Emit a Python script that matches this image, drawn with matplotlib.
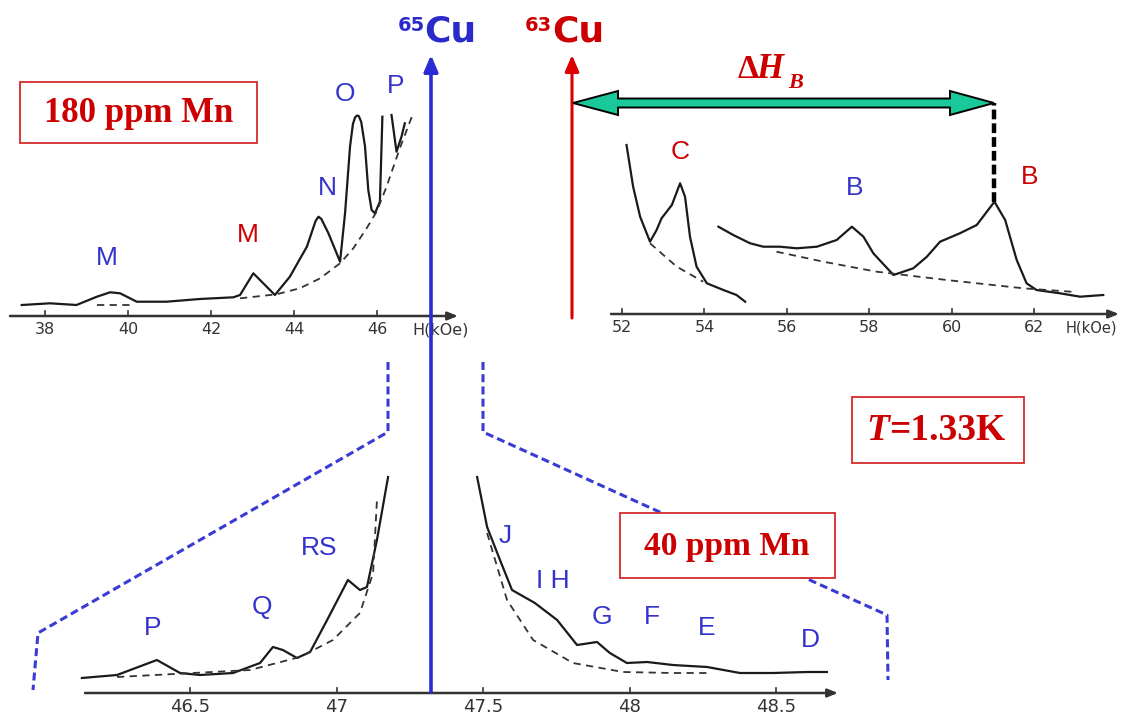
import matplotlib
matplotlib.use("Agg")
import matplotlib.pyplot as plt
from matplotlib.patches import Polygon, Rectangle

# ---- spectra (field in kOe, signal in arbitrary units) ----
# 180 ppm Mn, 65Cu side
h_180_65 = [37.44, 38.12, 38.76, 39.25, 39.57, 39.81, 40.21, 40.93, 41.73, 42.54,
            42.70, 43.02, 43.26, 43.54, 43.90, 44.31, 44.52, 44.59, 44.66, 44.83,
            45.11, 45.23, 45.35, 45.42, 45.47, 45.52, 45.56, 45.62, 45.71, 45.79,
            45.87, 45.95, 46.07, 46.13]
s_180_65 = [11, 12.7, 11, 19.3, 23.7, 22.7, 14.3, 14.3, 17, 18.7,
            21, 42.7, 32.7, 21, 39.3, 69.3, 95, 99.3, 97, 82.7,
            54.3, 102.7, 169.3, 192, 198.5, 200.5, 200, 194, 170, 126,
            106, 102.7, 114.3, 199.3]
h_180_65_p = [46.35, 46.41, 46.47, 46.59, 46.67]
s_180_65_p = [201, 182.7, 164.3, 179.3, 192.7]
h_180_65_bg = [42.70, 43.58, 44.14, 44.63, 45.11, 45.43, 45.75, 45.99, 46.23, 46.55, 46.87]
s_180_65_bg = [17.7, 21.7, 27.7, 37.7, 52.7, 67.7, 87.7, 104.3, 129.3, 167.7, 202.7]
h_180_m_bg = [39.25, 40.05]
s_180_m_bg = [11, 11]

# 180 ppm Mn, 63Cu side
h_c = [52.11, 52.27, 52.44, 52.68, 52.84, 52.96, 53.21, 53.41, 53.53, 53.65,
       53.81, 54.06, 54.46, 54.78, 54.99]
s_c = [169, 127.3, 97.3, 72.3, 84, 95.7, 109, 130.7, 117.3, 77.3,
       47.3, 30.7, 24, 19, 12.3]
h_c_bg = [52.68, 53.33, 53.97]
s_c_bg = [70.7, 47.3, 32.3]
h_b = [54.34, 54.70, 55.11, 55.43, 55.83, 56.24, 56.73, 57.21, 57.58, 57.86,
       58.10, 58.25, 58.59, 59.07, 59.40, 59.72, 60.20, 60.61, 61.04, 61.30,
       61.58, 61.82, 62.06, 62.63, 63.12, 63.68]
s_b = [87.3, 79, 70.7, 67.3, 67.3, 65.7, 67.3, 74, 87.3, 77.3,
       60.7, 54, 39, 45.7, 57.3, 72.3, 80.7, 89, 112.3, 94,
       54, 30.7, 24, 20.7, 17.3, 19]
h_b_bg = [55.75, 56.89, 58.18, 59.88, 61.74, 63.0]
s_b_bg = [62.3, 52.3, 42.3, 34, 25.7, 22]
h_b_peak = 61.04
s_b_peak = 112.3
s_arrow = 210.7

# 40 ppm Mn, both sides of the 65Cu line
h_40_left = [46.131, 46.251, 46.387, 46.466, 46.534, 46.647, 46.739, 46.783, 46.817,
             46.865, 46.910, 46.968, 47.039, 47.080, 47.104, 47.138, 47.176]
s_40_left = [15, 18, 33, 20, 18, 20, 30, 46, 43, 35, 41, 73, 113, 103, 106, 153, 216]
h_40_left_bg = [46.251, 46.705, 46.875, 46.988, 47.080, 47.125, 47.138]
s_40_left_bg = [16, 23, 36, 53, 80, 120, 193]
h_40_right = [47.48, 47.514, 47.558, 47.599, 47.677, 47.753, 47.821, 47.889, 47.933,
              47.991, 48.060, 48.148, 48.265, 48.377, 48.490, 48.606, 48.674]
s_40_right = [216, 166, 133, 103, 90, 73, 48, 51, 40, 30, 31, 28, 26, 20, 20, 21, 21]
h_40_right_bg = [47.514, 47.582, 47.671, 47.807, 47.978, 48.148, 48.265]
s_40_right_bg = [160, 93, 53, 30, 21, 20, 20]

ticks_tl = [38, 40, 42, 44, 46]
ticks_tr = [52, 54, 56, 58, 60, 62]
ticks_bt = [46.5, 47, 47.5, 48, 48.5]
ticklabels_bt = ["46.5", "47", "47.5", "48", "48.5"]

BLUE = "#3333cc"
RED = "#cc0000"
INK = "#1a1a1a"

W, HT = 1121, 720
fig = plt.figure(figsize=(W / 100, HT / 100), dpi=100)


def make_panel(x0, x1, y_top, y_axis, h_ref, px_ref, px_per_koe):
    ax = fig.add_axes([x0 / W, 1 - y_axis / HT, (x1 - x0) / W, (y_axis - y_top) / HT])
    ax.set_xlim(h_ref + (x0 - px_ref) / px_per_koe, h_ref + (x1 - px_ref) / px_per_koe)
    ax.set_ylim(0, y_axis - y_top)
    ax.axis("off")
    return ax


def field_axis(ax, ticks, labels, fs):
    x0, x1 = ax.get_xlim()
    ax.annotate("", xy=(x1, 0), xytext=(x0, 0),
                arrowprops=dict(arrowstyle="-|>,head_length=0.5,head_width=0.2",
                                color="#333333", lw=1.8, mutation_scale=12,
                                shrinkA=0, shrinkB=0),
                annotation_clip=False)
    for t, lab in zip(ticks, labels):
        ax.plot([t, t], [0, 5], color="#333333", lw=1.2, clip_on=False)
        ax.text(t, -14, lab, ha="center", va="center", fontsize=fs, color="#333333")


def trace(ax, h, s, dashed=False):
    if dashed:
        ax.plot(h, s, color="#333333", lw=1.3, ls=(0, (4, 3)), clip_on=False)
    else:
        ax.plot(h, s, color=INK, lw=1.6, clip_on=False, solid_joinstyle="round")


# top left: 180 ppm Mn, 65Cu satellites
ax_tl = make_panel(10, 458, 40, 316, 38, 45, 41.5)
field_axis(ax_tl, ticks_tl, [str(t) for t in ticks_tl], 11.5)
ax_tl.text(38 + (441 - 45) / 41.5, -14, "H(kOe)", ha="center", va="center",
           fontsize=11.5, color="#333333")
trace(ax_tl, h_180_65, s_180_65)
trace(ax_tl, h_180_65_p, s_180_65_p)
trace(ax_tl, h_180_65_bg, s_180_65_bg, dashed=True)
trace(ax_tl, h_180_m_bg, s_180_m_bg, dashed=True)

# top right: 180 ppm Mn, 63Cu satellites
ax_tr = make_panel(611, 1119, 40, 314, 52, 622, 41.2)
field_axis(ax_tr, ticks_tr, [str(t) for t in ticks_tr], 11.5)
ax_tr.text(52 + (1066 - 622) / 41.2, -14, "H(kOe)", ha="left", va="center",
           fontsize=10.5, color="#333333")
trace(ax_tr, h_c, s_c)
trace(ax_tr, h_c_bg, s_c_bg, dashed=True)
trace(ax_tr, h_b, s_b)
trace(ax_tr, h_b_bg, s_b_bg, dashed=True)
ax_tr.plot([h_b_peak, h_b_peak], [s_b_peak, s_arrow], color="black", lw=3.2,
           ls=(0, (2.2, 0.9)), clip_on=False)

# bottom: 40 ppm Mn, expanded around the 65Cu line
ax_bt = make_panel(85, 838, 440, 693, 46.5, 190, 293)
field_axis(ax_bt, ticks_bt, ticklabels_bt, 13)
trace(ax_bt, h_40_left, s_40_left)
trace(ax_bt, h_40_left_bg, s_40_left_bg, dashed=True)
trace(ax_bt, h_40_right, s_40_right)
trace(ax_bt, h_40_right_bg, s_40_right_bg, dashed=True)

# overlay in pixel coordinates for annotations
ov = fig.add_axes([0, 0, 1, 1])
ov.set_xlim(0, W)
ov.set_ylim(HT, 0)
ov.axis("off")

# zoom guides
dash_blue = dict(color="#3a3ad4", lw=2.2, ls=(0, (2.6, 1.4)))
ov.plot([388, 388, 38, 33], [362, 432, 633, 690], **dash_blue)
ov.plot([483, 483, 887, 888], [362, 432, 615, 680], **dash_blue)

# isotope reference lines
ov.annotate("", xy=(431, 55), xytext=(431, 692),
            arrowprops=dict(arrowstyle="-|>,head_length=0.7,head_width=0.3",
                            color="#2b2bd6", lw=2.6, mutation_scale=14,
                            shrinkA=0, shrinkB=0))
ov.annotate("", xy=(572, 55), xytext=(572, 318),
            arrowprops=dict(arrowstyle="-|>,head_length=0.7,head_width=0.3",
                            color="#dd0000", lw=2.2, mutation_scale=14,
                            shrinkA=0, shrinkB=0))
ov.text(424, 42, "Cu", color="#2b2bcc", fontsize=26, fontweight="bold",
        ha="left", va="baseline")
ov.text(398, 31, "65", color="#2b2bcc", fontsize=14, fontweight="bold",
        ha="left", va="baseline")
ov.text(552, 42, "Cu", color=RED, fontsize=26, fontweight="bold",
        ha="left", va="baseline")
ov.text(525, 31, "63", color=RED, fontsize=14, fontweight="bold",
        ha="left", va="baseline")

# Delta H_B double arrow
ov.add_patch(Polygon([(573, 103), (618, 91), (618, 98.5), (950, 98.5), (950, 91),
                      (994, 103), (950, 115), (950, 107.5), (618, 107.5), (618, 115)],
                     closed=True, fc="#19c99a", ec="black", lw=1.4, zorder=4))
serif = ["Liberation Serif", "DejaVu Serif"]
ov.text(737, 78, "\u0394", color=RED, fontsize=24, fontweight="bold",
        family=serif, ha="left", va="baseline")
ov.text(756, 78, "H", color=RED, fontsize=25, fontweight="bold", fontstyle="italic",
        family=serif, ha="left", va="baseline")
ov.text(788, 88, "B", color=RED, fontsize=16, fontweight="bold", fontstyle="italic",
        family=serif, ha="left", va="baseline")

# peak labels
peak_labels = [
    ("M", 107, 258, BLUE), ("M", 248, 235, RED), ("N", 327, 188, BLUE),
    ("O", 345, 94, BLUE), ("P", 396, 86, BLUE),
    ("C", 680, 152, RED), ("B", 855, 188, BLUE), ("B", 1030, 177, RED),
    ("P", 153, 628, BLUE), ("Q", 262, 607, BLUE), ("RS", 319, 548, BLUE),
    ("J", 505, 536, BLUE), ("I H", 553, 581, BLUE), ("G", 602, 617, BLUE),
    ("F", 652, 617, BLUE), ("E", 707, 628, BLUE), ("D", 810, 640, BLUE),
]
for lab, x, y, c in peak_labels:
    ov.text(x, y, lab, color=c, fontsize=19, ha="center", va="center",
            family=["Liberation Sans", "DejaVu Sans"])


def boxed(x0, y0, x1, y1, parts, fs=24):
    ov.add_patch(Rectangle((x0, y0), x1 - x0, y1 - y0, fc="white", ec="#d42a2a",
                           lw=1.3, zorder=5))
    for txt, x, style, ha in parts:
        ov.text(x, (y0 + y1) / 2 + 1, txt, color="#cc0000", fontsize=fs,
                fontweight="bold", fontstyle=style, family=serif,
                ha=ha, va="center", zorder=6)


boxed(20, 82, 257, 143, [("180 ppm Mn", 139, "normal", "center")], fs=25)
boxed(620, 513, 835, 578, [("40 ppm Mn", 727, "normal", "center")])
boxed(852, 397, 1024, 463, [("T", 889, "italic", "right"),
                            ("=1.33K", 889, "normal", "left")], fs=27)

fig.savefig("out.png", dpi=100, facecolor="white")
